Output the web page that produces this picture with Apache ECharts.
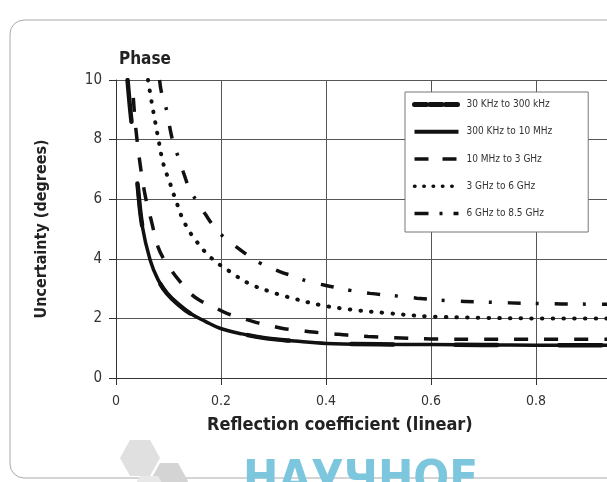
<!DOCTYPE html>
<html><head><meta charset="utf-8">
<script src="https://cdn.jsdelivr.net/npm/echarts@6/dist/echarts.min.js"></script>
<style>html,body{margin:0;padding:0;background:#fff}#c{width:607px;height:482px}</style>
</head><body><div id="c"></div>
<script>
const FONT = "'Liberation Sans Narrow', 'DejaVu Sans Condensed', 'Roboto', sans-serif";
const seriesNames = ['30 KHz to 300 kHz', '300 KHz to 10 MHz', '10 MHz to 3 GHz', '3 GHz to 6 GHz', '6 GHz to 8.5 GHz'];
const xTicks = [0, 0.2, 0.4, 0.6, 0.8, 1.0];
const yTicks = [0, 2, 4, 6, 8, 10];

const g30k = [0.022, 0.026, 0.030, 0.035, 0.041, 0.050, 0.065, 0.080, 0.097, 0.120, 0.141, 0.170, 0.198, 0.240, 0.287, 0.340, 0.401, 0.500, 0.600, 0.700, 0.800, 0.950];
const v30k = [10.0, 9.2, 8.5, 7.4, 6.5, 5.1, 3.96, 3.3, 2.84, 2.45, 2.17, 1.9, 1.67, 1.48, 1.33, 1.24, 1.16, 1.13, 1.12, 1.11, 1.10, 1.10];

const g300k = [0.041, 0.050, 0.065, 0.080, 0.097, 0.120, 0.141, 0.170, 0.198, 0.240, 0.287, 0.340, 0.401, 0.500, 0.600, 0.700, 0.800, 0.950];
const v300k = [6.5, 5.1, 3.96, 3.3, 2.84, 2.45, 2.17, 1.9, 1.67, 1.48, 1.33, 1.24, 1.16, 1.13, 1.12, 1.11, 1.10, 1.10];

const g10m = [0.033, 0.036, 0.040, 0.045, 0.050, 0.057, 0.067, 0.080, 0.092, 0.106, 0.119, 0.141, 0.160, 0.185, 0.211, 0.242, 0.268, 0.293, 0.318, 0.350, 0.375, 0.410, 0.440, 0.480, 0.530, 0.600, 0.700, 0.800, 0.950];
const v10m = [9.4, 8.7, 8.0, 7.3, 6.7, 6.0, 5.3, 4.4, 3.96, 3.6, 3.3, 2.85, 2.6, 2.39, 2.17, 2.0, 1.86, 1.76, 1.66, 1.6, 1.54, 1.49, 1.44, 1.39, 1.35, 1.31, 1.30, 1.30, 1.30];

const g3g = [0.061, 0.068, 0.074, 0.081, 0.090, 0.103, 0.116, 0.131, 0.154, 0.182, 0.217, 0.252, 0.290, 0.325, 0.389, 0.446, 0.509, 0.592, 0.700, 0.800, 0.950];
const v3g = [10.0, 9.25, 8.66, 7.99, 7.2, 6.53, 5.86, 5.19, 4.57, 4.02, 3.57, 3.18, 2.92, 2.73, 2.45, 2.3, 2.19, 2.07, 2.02, 2.0, 2.0];

const g6g = [0.083, 0.087, 0.097, 0.102, 0.109, 0.119, 0.128, 0.141, 0.154, 0.170, 0.189, 0.208, 0.233, 0.255, 0.274, 0.312, 0.341, 0.366, 0.396, 0.427, 0.446, 0.484, 0.541, 0.573, 0.630, 0.700, 0.800, 0.950];
const v6g = [10.0, 9.55, 8.95, 8.45, 7.9, 7.4, 6.92, 6.3, 5.93, 5.5, 5.03, 4.69, 4.35, 4.07, 3.86, 3.57, 3.4, 3.24, 3.12, 3.01, 2.94, 2.84, 2.74, 2.68, 2.6, 2.55, 2.5, 2.47];

function pairs(xs, ys) { return xs.map((x, i) => [x, ys[i]]); }

const legendLines = [
  { color: '#111', width: 5, type: [12, 3.5], cap: 'round' },
  { color: '#111', width: 4, type: 'solid' },
  { color: '#111', width: 3.5, type: [14, 14] },
  { color: '#111', width: 3.5, type: [0.5, 8.8], cap: 'round' },
  { color: '#111', width: 3.5, type: [14, 11, 3, 11] }
];

const chart = echarts.init(document.getElementById('c'), null, { renderer: 'canvas' });
const baseSeries = { type: 'line', symbol: 'none', smooth: 0.4, clip: true, color: '#111', itemStyle: { color: '#111' } };
const option = {
  backgroundColor: '#fff',
  animation: false,
  textStyle: { fontFamily: FONT },
  title: { text: 'Phase', left: 114, top: 46, textStyle: { fontFamily: FONT, fontSize: 17, fontWeight: 'bold', color: '#222' } },
  grid: { left: 116, top: 80, width: 525, height: 298, containLabel: false, outerBoundsMode: 'none' },
  legend: {
    left: 405, top: 92, orient: 'vertical',
    itemWidth: 44, itemHeight: 14, itemGap: 16,
    padding: [7, 36, 13, 7],
    backgroundColor: '#fff', borderColor: '#777', borderWidth: 1,
    itemStyle: { color: 'rgba(0,0,0,0)', borderColor: 'rgba(0,0,0,0)', borderWidth: 0, opacity: 0 },
    textStyle: { fontFamily: FONT, fontSize: 10, color: '#333', padding: [0, 0, 0, 3] },
    data: seriesNames.map((n, i) => ({ name: n, lineStyle: legendLines[i] }))
  },
  xAxis: {
    type: 'value', min: 0, max: 1, interval: 0.2,
    axisLine: { show: true, onZero: false, lineStyle: { color: '#333', width: 1 } },
    axisTick: { show: true, length: 7, lineStyle: { color: '#333' } },
    axisLabel: { margin: 16, fontFamily: FONT, fontSize: 14, color: '#333',
      formatter: v => { const t = xTicks.find(k => Math.abs(k - v) < 1e-9); return t === 0 ? '0' : t.toFixed(1); } },
    splitLine: { show: true, lineStyle: { color: '#555', width: 1 } }
  },
  yAxis: {
    type: 'value', min: 0, max: 10, interval: 2,
    name: 'Uncertainty (degrees)', nameLocation: 'middle', nameGap: 66, nameRotate: 90,
    nameTextStyle: { fontFamily: FONT, fontSize: 16, fontWeight: 'bold', color: '#222' },
    axisLine: { show: true, lineStyle: { color: '#333', width: 1 } },
    axisTick: { show: true, length: 7, lineStyle: { color: '#333' } },
    axisLabel: { margin: 14, fontFamily: FONT, fontSize: 15, color: '#333',
      formatter: v => String(yTicks.find(k => Math.abs(k - v) < 1e-9)) },
    splitLine: { show: true, lineStyle: { color: '#555', width: 1 } }
  },
  graphic: [
    { type: 'rect', z: -10, shape: { x: 10, y: 20, width: 700, height: 458, r: 14 }, style: { fill: '#fff', stroke: '#aaa', lineWidth: 1 } },
    { type: 'text', left: 207, top: 416, style: { text: 'Reflection coefficient (linear)', font: 'bold 18px ' + FONT, fill: '#222' } },
    { type: 'polygon', z: -5, shape: { points: [[130, 440], [150, 440], [160, 458], [150, 476], [130, 476], [120, 458]] }, style: { fill: '#e0e0e0' } },
    { type: 'polygon', z: -5, shape: { points: [[160, 463], [178, 463], [188, 481], [178, 499], [160, 499], [150, 481]] }, style: { fill: '#d4d4d4' } },
    { type: 'polygon', z: -5, shape: { points: [[140, 476], [158, 476], [168, 494], [158, 512], [140, 512], [130, 494]] }, style: { fill: '#e8e8e8' } },
    { type: 'text', left: 243, top: 457, style: { text: 'НАУЧНОЕ', font: 'bold 47px ' + FONT, fill: '#7cc6de' } }
  ],
  series: [
    Object.assign({}, baseSeries, { name: seriesNames[0], data: pairs(g30k, v30k), z: 3,
      lineStyle: { color: '#111', width: 4.5, type: [42, 62], cap: 'round' } }),
    Object.assign({}, baseSeries, { name: seriesNames[1], data: pairs(g300k, v300k), z: 4,
      lineStyle: { color: '#111', width: 3.5, type: 'solid' } }),
    Object.assign({}, baseSeries, { name: seriesNames[2], data: pairs(g10m, v10m), z: 4,
      lineStyle: { color: '#111', width: 3.5, type: [14, 16] } }),
    Object.assign({}, baseSeries, { name: seriesNames[3], data: pairs(g3g, v3g), z: 4,
      lineStyle: { color: '#111', width: 4, type: [0.5, 10.2], cap: 'round' } }),
    Object.assign({}, baseSeries, { name: seriesNames[4], data: pairs(g6g, v6g), z: 4,
      lineStyle: { color: '#111', width: 3.5, type: [13, 15, 3, 16] } })
  ]
};
chart.setOption(option);
</script></body></html>
